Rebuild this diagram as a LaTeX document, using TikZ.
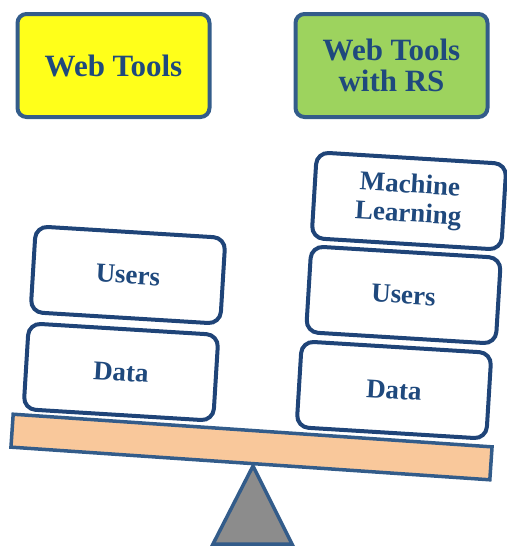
\documentclass[tikz,border=0pt]{standalone}
\usepackage{fontspec}
\setmainfont{Liberation Serif}
\definecolor{txtblue}{HTML}{1F497D}
\definecolor{boxblue}{HTML}{1F4478}
\definecolor{edgeblue}{HTML}{335C8A}
\definecolor{yel}{HTML}{FFFF1A}
\definecolor{grn}{HTML}{9DD35E}
\definecolor{plankfill}{HTML}{F9C89B}
\definecolor{fulcrum}{HTML}{8C8C8C}
\begin{document}
\begin{tikzpicture}[x=1pt,y=1pt,
  topbox/.style={draw=edgeblue, line width=4pt, rounded corners=9pt,
    minimum width=192pt, minimum height=103pt, inner sep=0pt, align=center,
    text=txtblue, font=\fontsize{31}{31}\selectfont\bfseries},
  stackbox/.style={draw=boxblue, fill=white, line width=4pt, rounded corners=12pt,
    minimum width=190pt, minimum height=86pt, inner sep=0pt, align=center,
    text=txtblue, font=\fontsize{27}{29}\selectfont\bfseries, rotate=-3.5},
  plank/.style={draw=edgeblue, fill=plankfill, line width=3.5pt,
    minimum width=480pt, minimum height=33pt, inner sep=0pt, rotate=-3.9}]
\useasboundingbox (0,0) rectangle (506,-546);
% fulcrum
\coordinate (apex) at (253,-466);
\coordinate (bl) at (213,-544);
\coordinate (br) at (292,-544);
\draw[edgeblue, fill=fulcrum, line width=3.5pt, line join=miter] (apex) -- (bl) -- (br) -- cycle;
% plank
\node[plank] (beam) at (251.5,-447) {};
% top labels
\node[topbox, fill=yel] (wt) at (113.5,-65.5) {Web Tools};
\node[topbox, fill=grn] (wtrs) at (391.5,-65.5) {Web Tools\\with RS};
% left stack
\node[stackbox] (lusers) at (128,-275) {Users};
\node[stackbox] (ldata) at (121,-372) {Data};
% right stack
\node[stackbox] (ml) at (409,-201) {Machine\\Learning};
\node[stackbox] (rusers) at (403.5,-295) {Users};
\node[stackbox] (rdata) at (394,-390) {Data};
\end{tikzpicture}
\end{document}
